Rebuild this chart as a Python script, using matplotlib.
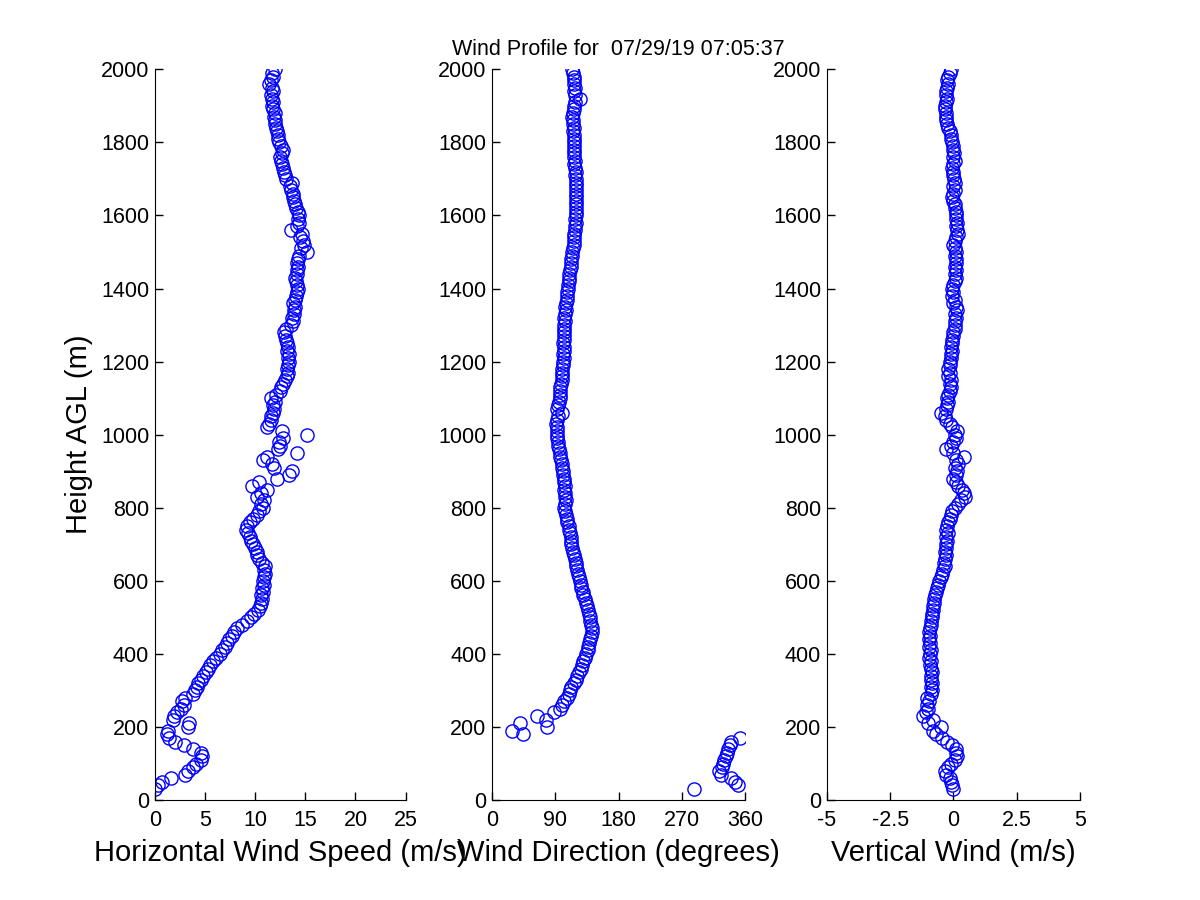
import numpy as np
import matplotlib
matplotlib.use("Agg")
import matplotlib.pyplot as plt

plt.rcParams["font.family"] = ["Liberation Sans", "DejaVu Sans"]

# measurement levels (m AGL), one every 10 m
heights = np.arange(30, 2001, 10)

# horizontal wind speed (m/s)
speed = [
    0.0, 0.3, 0.7, 1.6, 3.0, 3.3, 3.8, 4.1,
    4.6, 4.7, 4.6, 3.8, 2.9, 2.0, 1.4, 1.2, 1.3, 3.3,
    3.4, 1.8, 1.9, 2.2, 2.6, 2.9, 2.7, 3.0, 3.8, 4.0,
    4.2, 4.3, 4.6, 4.8, 5.1, 5.3, 5.5, 5.8, 6.1, 6.5,
    6.7, 7.0, 7.2, 7.4, 7.7, 7.9, 8.2, 8.7, 9.2, 9.6,
    9.9, 10.3, 10.5, 10.6, 10.7, 10.6, 10.8, 10.7, 10.9, 10.8,
    10.9, 11.0, 10.9, 11.0, 10.7, 10.4, 10.2, 10.2, 10.0, 9.8,
    9.6, 9.5, 9.3, 9.1, 9.2, 9.5, 9.8, 10.2, 10.4, 10.8,
    10.6, 10.9, 10.2, 10.6, 11.2, 9.7, 10.4, 12.2, 13.4, 13.7,
    11.9, 11.7, 10.8, 11.2, 14.2, 12.3, 12.5, 12.4, 12.8, 15.2,
    12.7, 11.2, 11.4, 11.6, 11.6, 11.8, 11.9, 11.8, 12.0, 11.6,
    12.1, 12.5, 12.6, 12.8, 13.0, 13.2, 13.3, 13.2, 13.3, 13.4,
    13.3, 13.4, 13.2, 13.3, 13.2, 13.1, 13.0, 12.9, 13.1, 13.6,
    13.8, 13.7, 13.9, 13.9, 14.0, 13.8, 14.0, 14.1, 14.2, 14.3,
    14.2, 14.1, 14.0, 14.2, 14.2, 14.3, 14.2, 14.3, 14.4, 15.2,
    14.6, 14.9, 14.8, 14.5, 14.7, 13.6, 14.2, 14.4, 14.3, 14.4,
    14.3, 14.1, 14.0, 13.9, 13.8, 13.8, 13.6, 13.5, 13.7, 13.1,
    13.0, 12.9, 12.8, 12.7, 12.6, 12.5, 12.7, 12.8, 12.6, 12.4,
    12.3, 12.3, 12.2, 12.1, 12.0, 12.0, 11.9, 12.0, 11.8, 11.7,
    11.8, 11.7, 11.6, 11.8, 11.7, 11.4, 11.6, 11.8, 11.7, 12.0,
]

# wind direction (degrees)
direction = [
    287, 350, 346, 340, 325, 323, 327, 329,
    330, 333, 334, 336, 338, 340, 352, 44, 29, 78,
    40, 77, 64, 88, 97, 99, 103, 106, 109, 111,
    113, 116, 119, 121, 124, 126, 128, 130, 132, 134,
    136, 137, 138, 140, 141, 142, 142, 141, 140, 139,
    138, 136, 135, 133, 132, 130, 129, 127, 126, 125,
    124, 122, 121, 120, 119, 118, 117, 115, 114, 113,
    113, 112, 111, 110, 109, 107, 106, 105, 104, 103,
    104, 105, 104, 104, 103, 104, 103, 102, 101, 101,
    100, 99, 98, 97, 96, 95, 94, 94, 93, 93,
    92, 93, 91, 92, 94, 99, 93, 94, 95, 96,
    96, 97, 97, 98, 99, 99, 100, 100, 101, 101,
    102, 101, 102, 102, 101, 102, 103, 102, 103, 103,
    104, 103, 104, 105, 104, 105, 106, 106, 107, 108,
    108, 109, 110, 110, 111, 112, 113, 113, 114, 114,
    115, 116, 116, 117, 117, 118, 118, 119, 118, 119,
    119, 120, 119, 120, 119, 120, 119, 119, 120, 119,
    118, 119, 118, 117, 118, 117, 116, 117, 116, 117,
    116, 116, 115, 116, 115, 115, 114, 115, 116, 117,
    118, 125, 118, 117, 118, 117, 116, 116, 115, 114,
]

# vertical wind (m/s)
vertical = [
    0.0, -0.05, -0.1, -0.15, -0.3, -0.35, -0.2, -0.1,
    0.05, 0.15, 0.1, 0.1, -0.05, -0.25, -0.45, -0.7, -0.8, -0.5,
    -1.0, -0.8, -1.2, -1.1, -1.0, -1.05, -0.95, -1.05, -0.9, -0.85,
    -0.9, -0.85, -0.9, -0.88, -0.85, -0.9, -0.92, -0.9, -0.95, -0.92,
    -0.9, -0.95, -0.93, -0.95, -0.92, -0.95, -0.92, -0.9, -0.88, -0.85,
    -0.85, -0.82, -0.8, -0.78, -0.75, -0.72, -0.7, -0.65, -0.6, -0.55,
    -0.5, -0.45, -0.4, -0.35, -0.38, -0.33, -0.3, -0.35, -0.28, -0.3,
    -0.25, -0.28, -0.22, -0.3, -0.25, -0.2, -0.15, -0.1, -0.05, 0.05,
    0.2, 0.3, 0.45, 0.4, 0.35, 0.2, 0.1, 0.0, 0.1, 0.15,
    0.05, 0.2, 0.1, 0.4, 0.0, -0.3, -0.1, 0.0, 0.1, 0.05,
    0.15, -0.05, -0.15, -0.3, -0.35, -0.5, -0.3, -0.25, -0.2, -0.25,
    -0.2, -0.15, -0.1, -0.15, -0.1, -0.2, -0.15, -0.2, -0.12, -0.15,
    -0.1, -0.1, -0.05, -0.08, -0.05, -0.05, 0.0, 0.0, 0.05, 0.08,
    0.05, 0.1, 0.05, 0.15, 0.1, 0.0, 0.05, -0.05, 0.0, -0.05,
    0.0, 0.05, 0.1, 0.05, 0.1, 0.08, 0.12, 0.1, 0.05, 0.1,
    0.05, 0.0, 0.05, 0.1, 0.2, 0.15, 0.1, 0.15, 0.1, 0.12,
    0.1, 0.05, 0.05, 0.0, -0.05, 0.0, 0.05, 0.0, 0.05, 0.02,
    0.0, -0.02, -0.05, 0.0, 0.05, -0.02, 0.03, 0.0, -0.02, -0.05,
    -0.08, -0.1, -0.15, -0.2, -0.25, -0.28, -0.3, -0.3, -0.32, -0.35,
    -0.3, -0.25, -0.3, -0.28, -0.25, -0.2, -0.25, -0.2, -0.15, -0.1,
]

speed_ticks = [0, 5, 10, 15, 20, 25]
dir_ticks = [0, 90, 180, 270, 360]
dir_labels = ["0", "90", "180", "270", "360"]
vert_ticks = [-5, -2.5, 0, 2.5, 5]
vert_labels = ["-5", "-2.5", "0", "2.5", "5"]
height_ticks = list(range(0, 2001, 200))

fig = plt.figure(figsize=(12, 9), dpi=100)
ax1 = fig.add_axes([0.129, 0.111, 0.209, 0.812])
ax2 = fig.add_axes([0.410, 0.111, 0.211, 0.812])
ax3 = fig.add_axes([0.689, 0.111, 0.211, 0.812])

marker_style = dict(linestyle="none", marker="o", markerfacecolor="none",
                    markeredgecolor="blue", markersize=9.5, markeredgewidth=1)

ax1.plot(speed, heights, **marker_style)
ax2.plot(direction, heights, **marker_style)
ax3.plot(vertical, heights, **marker_style)

ax1.set_xlim(0, 25)
ax1.set_xticks(speed_ticks)
ax2.set_xlim(0, 360)
ax2.set_xticks(dir_ticks)
ax2.set_xticklabels(dir_labels)
ax3.set_xlim(-5, 5)
ax3.set_xticks(vert_ticks)
ax3.set_xticklabels(vert_labels)

for ax in (ax1, ax2, ax3):
    ax.set_ylim(0, 2000)
    ax.set_yticks(height_ticks)
    ax.spines["top"].set_visible(False)
    ax.spines["right"].set_visible(False)
    ax.tick_params(direction="in", length=6, width=1, labelsize=15.5)
    ax.tick_params(axis="x", pad=7)
    ax.tick_params(axis="y", pad=4)

ax1.set_xlabel("Horizontal Wind Speed (m/s)", fontsize=21, labelpad=6)
ax2.set_xlabel("Wind Direction (degrees)", fontsize=21, labelpad=6)
ax3.set_xlabel("Vertical Wind (m/s)", fontsize=21, labelpad=6)
ax1.set_ylabel("Height AGL (m)", fontsize=21, labelpad=6)
ax2.set_title("Wind Profile for  07/29/19 07:05:37", fontsize=15.5, pad=10)

fig.savefig("out.png", dpi=100)
